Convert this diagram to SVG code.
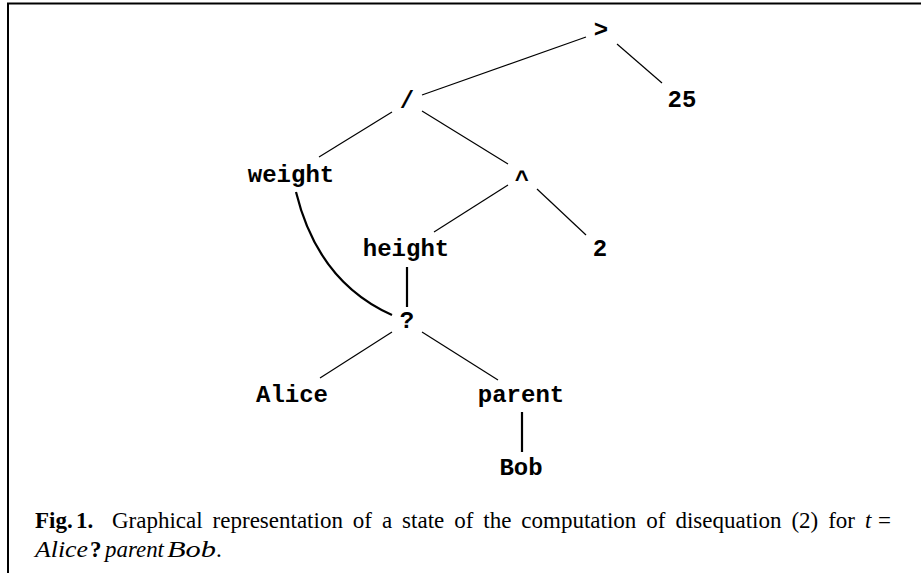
<svg xmlns="http://www.w3.org/2000/svg" width="921" height="573" viewBox="0 0 921 573">
<style>
.n{font-family:"Liberation Mono","Courier New",monospace;font-weight:bold;font-size:24px;text-anchor:middle;fill:#000}
.e{stroke:#000;stroke-width:1.2;fill:none}
.t{stroke:#000;stroke-width:2.2;fill:none}
.c{font-family:"Liberation Serif","Times New Roman",serif;font-size:23px;fill:#000}
.i{font-style:italic}
.b{font-weight:bold}
</style>
<rect width="921" height="573" fill="#fff"/>
<path d="M8 573V3.5H921" stroke="#000" stroke-width="2" fill="none"/>
<g id="connectors">
<line class="e" x1="586" y1="37" x2="422" y2="95"/>
<line class="e" x1="617" y1="44" x2="662" y2="83"/>
<line class="e" x1="392" y1="112" x2="319" y2="157"/>
<line class="e" x1="422" y1="111" x2="508" y2="164"/>
<line class="e" x1="508" y1="185" x2="434" y2="232"/>
<line class="e" x1="537" y1="189" x2="586" y2="235"/>
<line class="t" x1="407" y1="267" x2="407" y2="307"/>
<path class="t" d="M296 192Q318 282 392 315"/>
<line class="e" x1="392" y1="332" x2="320" y2="378"/>
<line class="e" x1="422" y1="332" x2="498" y2="380"/>
<line class="t" x1="522" y1="412" x2="522" y2="452" stroke-width="2.6"/>
</g>
<g id="n-gt"><text class="n" x="601" y="37">&gt;</text></g>
<g id="n-25"><text class="n" x="682" y="107">25</text></g>
<g id="n-div"><text class="n" x="407" y="108">/</text></g>
<g id="n-weight"><text class="n" x="291" y="182">weight</text></g>
<g id="n-pow"><text class="n" x="522" y="187">^</text></g>
<g id="n-height"><text class="n" x="406" y="256">height</text></g>
<g id="n-2"><text class="n" x="600" y="256">2</text></g>
<g id="n-q"><text class="n" x="407" y="328">?</text></g>
<g id="n-alice"><text class="n" x="292" y="402">Alice</text></g>
<g id="n-parent"><text class="n" x="521" y="402">parent</text></g>
<g id="n-bob"><text class="n" x="521" y="475">Bob</text></g>
<g id="caption">
<text class="c b" x="35" y="528">Fig.</text>
<text class="c b" x="76" y="528">1.</text>
<text class="c" x="112" y="528" word-spacing="4.2">Graphical representation of a state of the computation of disequation (2) for</text>
<text class="c i" x="865" y="528">t</text>
<text class="c" x="878" y="528">=</text>
<text class="c i" x="35" y="557" textLength="53" lengthAdjust="spacingAndGlyphs">Alice</text>
<text class="c b" x="90" y="557">?</text>
<text class="c i" x="105" y="557" textLength="59" lengthAdjust="spacingAndGlyphs">parent</text>
<text class="c i" x="167" y="557" textLength="49" lengthAdjust="spacingAndGlyphs">Bob</text>
<text class="c" x="216" y="557">.</text>
</g>
</svg>
